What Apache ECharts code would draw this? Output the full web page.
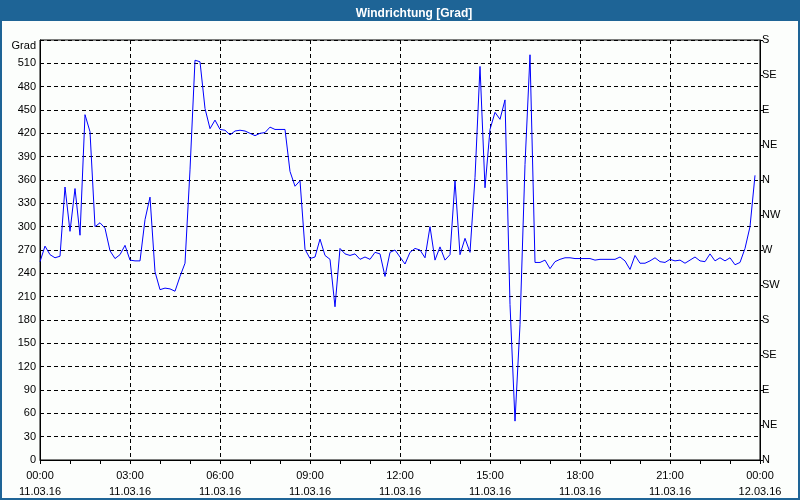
<!DOCTYPE html>
<html>
<head>
<meta charset="utf-8">
<script src="https://cdn.jsdelivr.net/npm/echarts@6/dist/echarts.min.js"></script>
<style>
  html, body { margin: 0; padding: 0; background: #fcfefc; }
  #chart { width: 800px; height: 500px; }
</style>
</head>
<body>
<div id="chart"></div>
<script>
// ---- data (10-minute samples starting 11.03.16 00:00) ----
const sampleMinutes = 10;
const windDirection = [
  255, 275, 264, 260, 262, 351, 294, 349, 289, 444,
  422, 300, 305, 298, 269, 259, 264, 276, 257, 256,
  256, 309, 338, 242, 219, 221, 220, 217, 236, 253,
  373, 514, 512, 452, 426, 437, 425, 424, 418, 423,
  424, 423, 420, 417, 420, 421, 428, 425, 425, 425,
  371, 352, 359, 271, 259, 261, 284, 263, 258, 197,
  272, 265, 263, 265, 258, 261, 258, 267, 265, 236,
  267, 270, 261, 252, 267, 272, 270, 260, 300, 257,
  274, 257, 264, 359, 264, 285, 267, 363, 506, 350,
  425, 447, 438, 463, 200, 50, 174, 380, 521, 254,
  254, 257, 246, 255, 258, 260, 260, 259, 259, 259,
  259, 257, 258, 258, 258, 258, 261, 256, 245, 263,
  253, 253, 256, 260, 255, 254, 258, 256, 257, 253,
  257, 261, 256, 255, 265, 256, 260, 256, 260, 251,
  254, 272, 300, 366
];
const timeLabels = ['00:00', '03:00', '06:00', '09:00', '12:00', '15:00', '18:00', '21:00', '00:00'];
const dateLabels = ['11.03.16', '11.03.16', '11.03.16', '11.03.16', '11.03.16', '11.03.16', '11.03.16', '11.03.16', '12.03.16'];
const compassLabels = ['N', 'NE', 'E', 'SE', 'S', 'SW', 'W', 'NW', 'N', 'NE', 'E', 'SE', 'S'];
const titleText = 'Windrichtung [Grad]';
const unitText = 'Grad';

const seriesData = windDirection.map((v, i) => [i * sampleMinutes, v]);

const FONT = '"Liberation Sans", Arial, sans-serif';
const BLUE = '#1e6496';
const dash = [4, 3];

const chart = echarts.init(document.getElementById('chart'), null, { renderer: 'canvas' });
chart.setOption({
  backgroundColor: '#fcfefc',
  animation: false,
  title: {
    text: titleText,
    left: 409,
    top: 3,
    textAlign: 'center',
    textStyle: { color: '#ffffff', fontFamily: FONT, fontSize: 12, fontWeight: 'bold' }
  },
  graphic: [
    { type: 'rect', z: -1, shape: { x: 0, y: 0, width: 800, height: 21 }, style: { fill: BLUE } },
    { type: 'rect', z: 100, shape: { x: 1, y: 1, width: 798, height: 498 }, style: { fill: 'none', stroke: BLUE, lineWidth: 2 } }
  ],
  grid: {
    left: 40, right: 40, top: 40, bottom: 40,
    show: true, borderColor: '#000', borderWidth: 1, backgroundColor: 'transparent'
  },
  xAxis: {
    type: 'value',
    min: 0, max: 1440, interval: 180,
    axisLine: { show: true, onZero: false, lineStyle: { color: '#000', width: 1 } },
    axisTick: { show: true, length: 4, lineStyle: { color: '#000' } },
    minorTick: { show: true, splitNumber: 3, length: 4, lineStyle: { color: '#000' } },
    splitLine: { show: true, lineStyle: { color: '#000', type: dash, width: 1 } },
    axisLabel: {
      color: '#000', fontFamily: FONT, fontSize: 11, lineHeight: 16, margin: 8,
      formatter: function (v) {
        const k = Math.round(v / 180);
        return timeLabels[k] + '\n' + dateLabels[k];
      }
    }
  },
  yAxis: [
    {
      type: 'value', min: 0, max: 540, interval: 30, position: 'left',
      axisLine: { show: true, lineStyle: { color: '#000', width: 1 } },
      axisTick: { show: false },
      splitLine: { show: true, lineStyle: { color: '#000', type: dash, width: 1 } },
      axisLabel: {
        color: '#000', fontFamily: FONT, fontSize: 11, margin: 4,
        formatter: function (v) { return v === 540 ? '{g|' + unitText + '}' : String(v); },
        rich: { g: { fontFamily: FONT, fontSize: 11, color: '#000', padding: [12, 0, 0, 0] } }
      }
    },
    {
      type: 'value', min: 0, max: 540, interval: 45, position: 'right',
      axisLine: { show: true, lineStyle: { color: '#000', width: 1 } },
      axisTick: { show: true, length: 3, lineStyle: { color: '#000' } },
      splitLine: { show: false },
      axisLabel: {
        color: '#000', fontFamily: FONT, fontSize: 11, margin: 2,
        formatter: function (v) { return compassLabels[Math.round(v / 45)]; }
      }
    }
  ],
  series: [{
    type: 'line',
    data: seriesData,
    yAxisIndex: 0,
    showSymbol: false,
    symbol: 'none',
    sampling: null,
    lineStyle: { color: '#0000ff', width: 1 },
    z: 5
  }]
});
</script>
</body>
</html>
